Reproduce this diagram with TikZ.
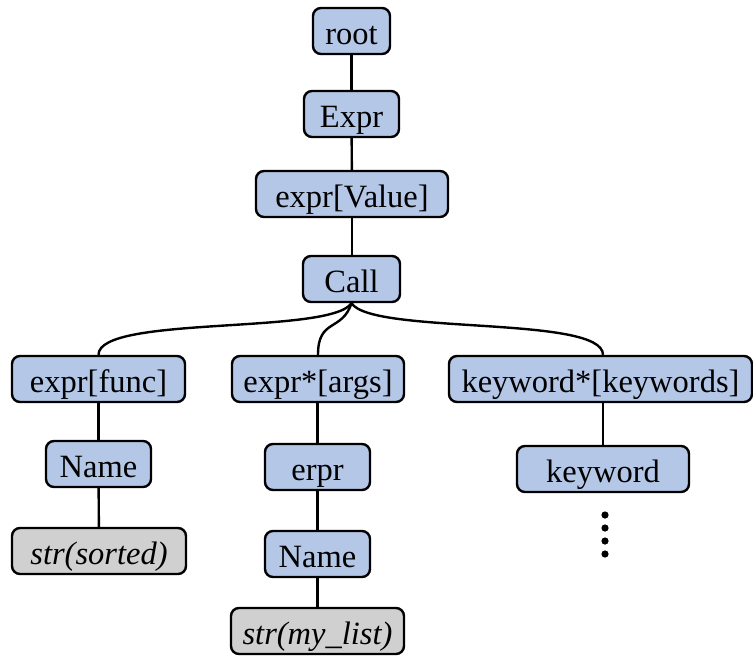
\documentclass[tikz,border=0pt]{standalone}
\usepackage{fontspec}
\setmainfont{Liberation Serif}
\begin{document}
\begin{tikzpicture}[x=1pt,y=-1pt,
  treenode/.style={draw=black, line width=2.4pt, rounded corners=8pt,
    minimum height=46pt, inner sep=0pt, text height=34pt, text depth=8pt,
    font=\fontsize{32.5}{38}\selectfont},
  ast/.style={treenode, fill=astblue},
  leaf/.style={treenode, fill=leafgray, font=\fontsize{32.5}{38}\selectfont\itshape},
  edge/.style={draw=black, line width=2.4pt}]
\definecolor{astblue}{HTML}{B4C7E7}
\definecolor{leafgray}{HTML}{D0D0D0}
\useasboundingbox (0,0) rectangle (753,657);

% spine
\node[ast, minimum width=77pt]  (root)  at (351.5,31)  {root};
\node[ast, minimum width=95pt]  (expr)  at (351.5,114) {Expr};
\node[ast, minimum width=192pt] (value) at (352,194)   {expr[Value]};
\node[ast, minimum width=97pt]  (call)  at (351.5,279) {Call};

% children of Call
\node[ast, minimum width=173pt] (func) at (98.5,379) {expr[func]};
\node[ast, minimum width=172pt] (args) at (318,379)  {expr*[args]};
\node[ast, minimum width=303pt] (kws)  at (600.5,379) {keyword*[keywords]};

% function branch
\node[ast, minimum width=105pt]  (fname) at (98.5,464) {Name};
\node[leaf, minimum width=174pt] (fstr)  at (99,551)   {str(sorted)};

% argument branch
\node[ast, minimum width=105pt]  (erpr)  at (317.5,467) {erpr};
\node[ast, minimum width=105pt]  (aname) at (317.5,554) {Name};
\node[leaf, minimum width=173pt] (astr)  at (317.5,631) {str(my\_list)};

% keyword branch
\node[ast, minimum width=172pt] (kw) at (603,469) {keyword};

% vertical ellipsis under keyword
\foreach \yy in {515,528,541,554}
  \fill (605,\yy) circle (3.6pt);

% straight edges
\draw[edge] (root) -- (expr);
\draw[edge] (expr) -- (value);
\draw[edge] (value.south) -- (value.south |- call.north);
\draw[edge] (func) -- (fname);
\draw[edge] (fname) -- (fstr);
\draw[edge] (erpr.north |- args.south) -- (erpr.north);
\draw[edge] (erpr) -- (aname);
\draw[edge] (aname) -- (astr);
\draw[edge] (kw.north |- kws.south) -- (kw.north);

% curved edges out of Call
\draw[edge] (call.south) .. controls (330,335) and (98.5,315) .. (func.north);
\draw[edge] (call.south) .. controls (342,332) and (318,318) .. (args.north);
\draw[edge] (call.south) .. controls (372,335) and (603,315) .. (kw.north |- kws.north);
\end{tikzpicture}
\end{document}
